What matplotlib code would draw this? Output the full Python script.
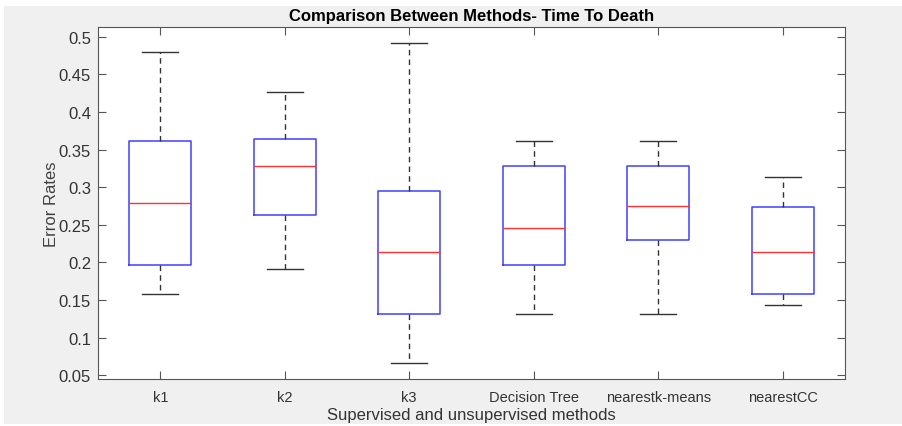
import matplotlib.pyplot as plt
from matplotlib.patches import Rectangle

# методы и значения
methods = ['k1', 'k2', 'k3', 'Decision Tree', 'nearestk-means', 'nearestCC']
whislo = [0.158, 0.191, 0.066, 0.131, 0.131, 0.144]
q1 = [0.197, 0.263, 0.131, 0.197, 0.230, 0.158]
med = [0.279, 0.328, 0.214, 0.246, 0.275, 0.214]
q3 = [0.361, 0.364, 0.295, 0.328, 0.328, 0.274]
whishi = [0.480, 0.426, 0.492, 0.361, 0.361, 0.313]

plt.rcParams['font.family'] = ['Liberation Sans', 'DejaVu Sans']

stats = []
for i in range(len(methods)):
    stats.append({'label': methods[i], 'whislo': whislo[i], 'q1': q1[i],
                  'med': med[i], 'q3': q3[i], 'whishi': whishi[i], 'fliers': []})

fig = plt.figure(figsize=(9.02, 4.27), dpi=100, facecolor='white')
# серый фон окна, как в MATLAB
fig.patches.append(Rectangle((4 / 902, 2 / 427), 898 / 902, 418 / 427,
                             transform=fig.transFigure, facecolor='#f0f0f0',
                             edgecolor='none', zorder=-10))
ax = fig.add_axes([98 / 902, 1 - 380 / 427, 747 / 902, 352 / 427])

ax.bxp(stats, widths=0.5, showfliers=False,
       boxprops=dict(color='#4040ff', linewidth=1.1),
       medianprops=dict(color='#ff3030', linewidth=1.0),
       whiskerprops=dict(color='#333333', linestyle=(0, (4, 3)), linewidth=1.0),
       capprops=dict(color='#333333', linewidth=1.0),
       capwidths=0.29)

ax.set_xlim(0.5, 6.5)
ax.set_ylim(0.045, 0.513)
ax.set_yticks([0.05, 0.1, 0.15, 0.2, 0.25, 0.3, 0.35, 0.4, 0.45, 0.5])
ax.set_yticklabels(['0.05', '0.1', '0.15', '0.2', '0.25', '0.3', '0.35', '0.4', '0.45', '0.5'])
ax.tick_params(direction='in', top=True, right=True, length=6, colors='#555555',
               labelcolor='#333333')
ax.tick_params(axis='y', labelsize=12, pad=5)
ax.tick_params(axis='x', labelsize=10.5, pad=8)
for s in ax.spines.values():
    s.set_color('#555555')

ax.set_title('Comparison Between Methods- Time To Death', fontsize=12,
             fontweight='bold', pad=5)
ax.set_ylabel('Error Rates', fontsize=12, color='#404040', labelpad=0)
ax.set_xlabel('Supervised and unsupervised methods', fontsize=12, color='#333333',
              labelpad=2)

plt.savefig('out.png', dpi=100, facecolor=fig.get_facecolor())
